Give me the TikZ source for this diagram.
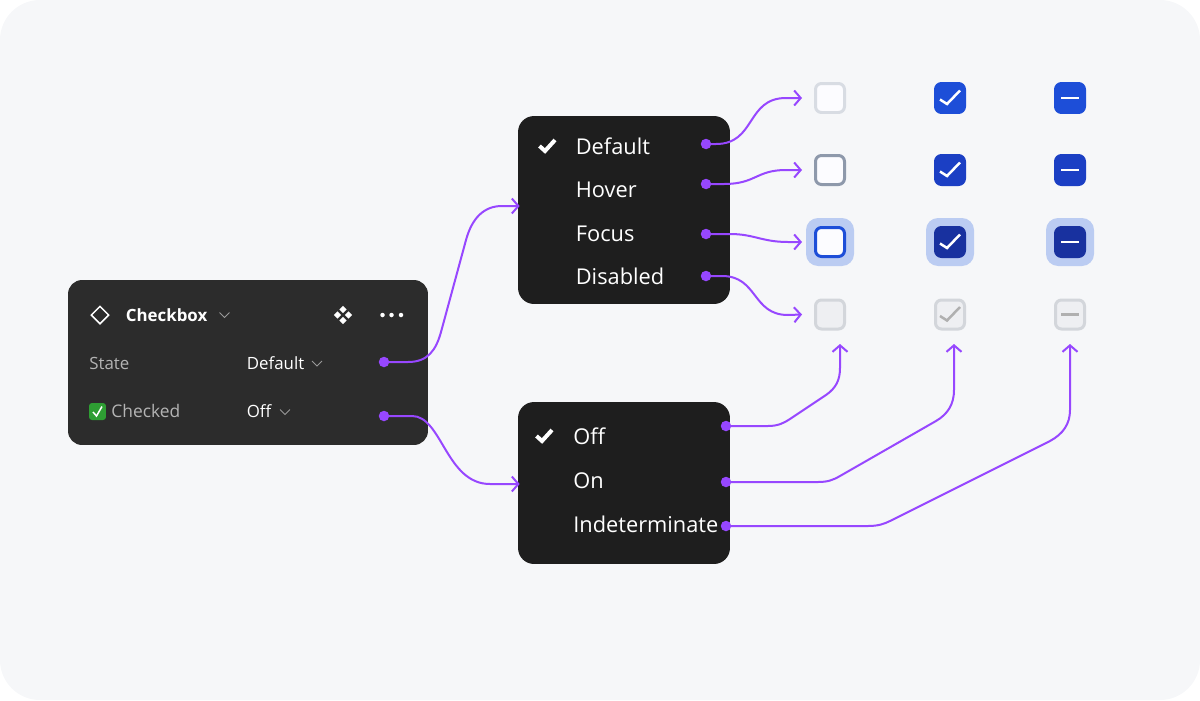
\documentclass[tikz,border=0pt]{standalone}
\usepackage{fontspec}
\setmainfont{Open Sans}
\usetikzlibrary{arrows.meta,shapes.geometric}

\definecolor{pagebg}{HTML}{F6F7F9}
\definecolor{panelbg}{HTML}{2C2C2C}
\definecolor{menubg}{HTML}{1E1E1E}
\definecolor{wire}{HTML}{9747FF}
\definecolor{softtext}{HTML}{B4B4B4}
\definecolor{chevron}{HTML}{999999}
\definecolor{boxwhite}{HTML}{FCFCFF}
\definecolor{blueone}{HTML}{1D4ED8}
\definecolor{bluetwo}{HTML}{1B3FC4}
\definecolor{bluethree}{HTML}{18319F}
\definecolor{halo}{HTML}{BBCCF2}
\definecolor{edgedefault}{HTML}{D8DCE3}
\definecolor{edgehover}{HTML}{8E99AB}
\definecolor{offfill}{HTML}{EEEFF2}
\definecolor{offedge}{HTML}{D3D6DB}
\definecolor{offmark}{HTML}{B0B0B0}
\definecolor{emojigreen}{HTML}{2E9E33}

\tikzset{
	panel/.style={fill=panelbg, draw=none, rounded corners=0.28cm, inner sep=0pt, minimum width=7.2cm, minimum height=3.3cm},
	menubox/.style={fill=menubg, draw=none, rounded corners=0.32cm, inner sep=0pt, minimum width=4.24cm},
	menutext/.style={anchor=base west, inner sep=0pt, text=white, font=\fontsize{12.4}{15}\selectfont},
	paneltext/.style={anchor=base west, inner sep=0pt, text=white, font=\fontsize{9.6}{12}\selectfont},
	softlabel/.style={paneltext, text=softtext},
	wiredot/.style={circle, fill=wire, inner sep=0pt, minimum size=0.21cm},
	wireline/.style={draw=wire, line width=0.04cm, -{Straight Barb[length=0.13cm, width=0.3cm, line width=0.04cm]}},
	tickbox/.style={rectangle, rounded corners=0.12cm, inner sep=0pt, minimum size=0.58cm, line width=0.06cm, outer sep=0.27cm},
	halobox/.style={rectangle, fill=halo, rounded corners=0.24cm, inner sep=0pt, minimum size=0.96cm},
	markline/.style={line width=0.05cm},
	chevronline/.style={draw=chevron, line width=0.02cm},
	smallgem/.style={diamond, fill=white, inner sep=0pt, minimum size=0.15cm}
}

% tick and dash inside a box
\newcommand{\boxtick}[2]{\draw[markline, draw=#2] ([shift={(-10,1.5)}]#1.center) -- ([shift={(-3,6)}]#1.center) -- ([shift={(10,-7.5)}]#1.center);}
\newcommand{\boxdash}[2]{\draw[markline, draw=#2] ([shift={(-9,0)}]#1.center) -- ([shift={(9,0)}]#1.center);}

\begin{document}
\begin{tikzpicture}[x=0.02cm, y=-0.02cm] %1 unit is 1 pixel of the reference
	\useasboundingbox (0,0) rectangle (1200,700);
	\fill[pagebg, rounded corners=0.8cm] (0,0) rectangle (1200,700);

	%Halos
	\node[halobox] (haloa) at (830,242) {};
	\node[halobox] (halob) at (950,242) {};
	\node[halobox] (haloc) at (1070,242) {};

	%Boxes, row by row
	\node[tickbox, fill=boxwhite, draw=edgedefault] (defoff) at (830,98) {};
	\node[tickbox, fill=blueone, draw=blueone] (defon) at (950,98) {};
	\node[tickbox, fill=blueone, draw=blueone] (defind) at (1070,98) {};
	\node[tickbox, fill=boxwhite, draw=edgehover] (hovoff) at (830,170) {};
	\node[tickbox, fill=bluetwo, draw=bluetwo] (hovon) at (950,170) {};
	\node[tickbox, fill=bluetwo, draw=bluetwo] (hovind) at (1070,170) {};
	\node[tickbox, fill=boxwhite, draw=blueone] (focoff) at (830,242) {};
	\node[tickbox, fill=bluethree, draw=bluethree] (focon) at (950,242) {};
	\node[tickbox, fill=bluethree, draw=bluethree] (focind) at (1070,242) {};
	\node[tickbox, fill=offfill, draw=offedge] (disoff) at (830,314.5) {};
	\node[tickbox, fill=offfill, draw=offedge] (dison) at (950,314.5) {};
	\node[tickbox, fill=offfill, draw=offedge] (disind) at (1070,314.5) {};

	%Marks in the boxes
	\boxtick{defon}{white}
	\boxdash{defind}{white}
	\boxtick{hovon}{white}
	\boxdash{hovind}{white}
	\boxtick{focon}{white}
	\boxdash{focind}{white}
	\boxtick{dison}{offmark}
	\boxdash{disind}{offmark}

	%Panel
	\node[panel] (panel) at (248,362.5) {};
	\node[diamond, draw=white, line width=0.03cm, inner sep=0pt, minimum size=0.36cm] (compicon) at (100,315) {};
	\node[paneltext, font=\fontsize{9.6}{12}\selectfont\bfseries] (title) at (125.5,321) {Checkbox};
	\draw[chevronline] (219.5,312.5) -- (224.5,317.5) -- (229.5,312.5);
	\node[smallgem] (gemn) at (343,309.5) {};
	\node[smallgem] (gems) at (343,320.5) {};
	\node[smallgem] (geme) at (348.5,315) {};
	\node[smallgem] (gemw) at (337.5,315) {};
	\node[circle, fill=white, inner sep=0pt, minimum size=0.09cm] (morea) at (382.5,315) {};
	\node[circle, fill=white, inner sep=0pt, minimum size=0.09cm] (moreb) at (391.5,315) {};
	\node[circle, fill=white, inner sep=0pt, minimum size=0.09cm] (morec) at (401,315) {};
	\node[softlabel] (statelabel) at (89,369) {State};
	\node[paneltext] (statevalue) at (246.5,369) {Default};
	\draw[chevronline] (312,361) -- (317,366) -- (322,361);
	\node[rectangle, fill=emojigreen, rounded corners=0.06cm, inner sep=0pt, minimum size=0.34cm] (emoji) at (97.5,411.5) {};
	\draw[white, line width=0.03cm] (93,412) -- (96.5,416) -- (102,406.5);
	\node[softlabel, font=\fontsize{9.9}{12}\selectfont] (checkedlabel) at (111,417.5) {Checked};
	\node[paneltext] (checkedvalue) at (246.5,417.5) {Off};
	\draw[chevronline] (280,409.5) -- (285,414.5) -- (290,409.5);

	%Menus
	\node[menubox, minimum height=3.76cm] (menua) at (624,210) {};
	\node[menubox, minimum height=3.24cm] (menub) at (624,483) {};
	\draw[white, line width=0.08cm] (539.5,146) -- (545,151) -- (555,140);
	\node[menutext] (itemdefault) at (575.5,154) {Default};
	\node[menutext] (itemhover) at (575.5,197) {Hover};
	\node[menutext] (itemfocus) at (575.5,241) {Focus};
	\node[menutext] (itemdisabled) at (575.5,284) {Disabled};
	\draw[white, line width=0.08cm] (536.5,436) -- (542,441) -- (552,430);
	\node[menutext] (itemoff) at (573,444) {Off};
	\node[menutext] (itemon) at (573,488.5) {On};
	\node[menutext] (itemind) at (573,532.5) {Indeterminate};

	%Dots
	\node[wiredot] (dotstate) at (384,362) {};
	\node[wiredot] (dotchecked) at (384,416) {};
	\node[wiredot] (dotdefault) at (706,144) {};
	\node[wiredot] (dothover) at (706,184) {};
	\node[wiredot] (dotfocus) at (706,234) {};
	\node[wiredot] (dotdisabled) at (706,276) {};
	\node[wiredot] (dotoff) at (726,426) {};
	\node[wiredot] (doton) at (726,482) {};
	\node[wiredot] (dotind) at (726,526) {};

	%Connectors
	\draw[wireline] (dotstate.center) -- (408,362) .. controls (428,362) and (436,350) .. (441,332) -- (466,240) .. controls (472,218) and (484,206) .. (502,206) -- ([xshift=0.04cm, yshift=0.08cm]menua.west);
	\draw[wireline] (dotchecked.center) -- (412,416) .. controls (442,416) and (446,484) .. (490,484) -- ([xshift=0.04cm, yshift=-0.02cm]menub.west);
	\draw[wireline] (dotdefault.center) -- (716,144) .. controls (756,144) and (746,98) .. (786,98) -- (defoff.west);
	\draw[wireline] (dothover.center) -- (724,184) .. controls (756,184) and (756,170) .. (786,170) -- (hovoff.west);
	\draw[wireline] (dotfocus.center) -- (730,234) .. controls (754,234) and (762,242) .. (788,242) -- (focoff.west);
	\draw[wireline] (dotdisabled.center) -- (722,276) .. controls (758,276) and (752,315) .. (788,315) -- (disoff.west);
	\draw[wireline, shorten >=0.03cm] (dotoff.center) -- (768,426) .. controls (778,426) and (784,423) .. (790,419) -- (826,395) .. controls (836,388) and (840,380) .. (840,368) -- ([xshift=0.2cm]disoff.south);
	\draw[wireline, shorten >=0.03cm] (doton.center) -- (818,482) .. controls (828,482) and (833,480) .. (840,476) -- (936,421) .. controls (948,414) and (954,404) .. (954,390) -- ([xshift=0.08cm]dison.south);
	\draw[wireline, shorten >=0.03cm] (dotind.center) -- (868,526) .. controls (878,526) and (884,524) .. (890,521) -- (1050,441) .. controls (1063,434) and (1070,424) .. (1070,410) -- (disind.south);
\end{tikzpicture}
\end{document}
